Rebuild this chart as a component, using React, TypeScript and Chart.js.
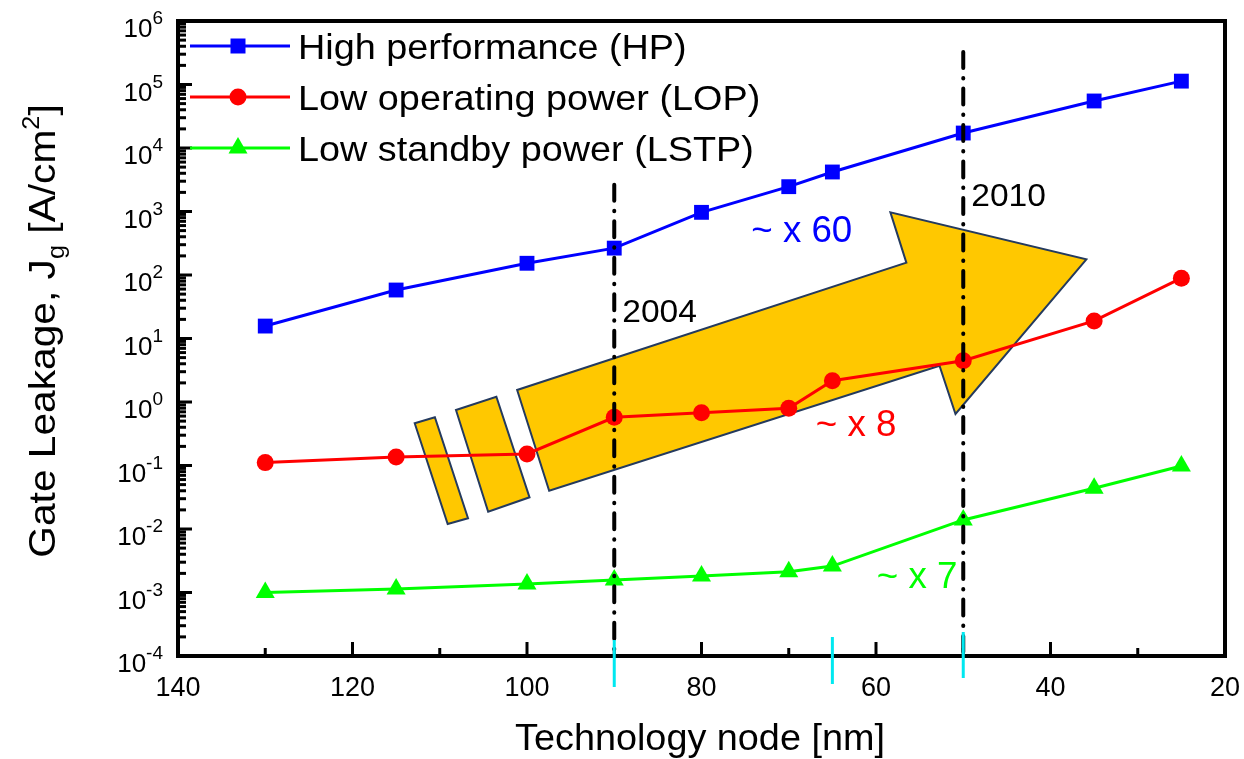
import React, { useEffect, useRef } from "react";
import { Chart, registerables } from "chart.js";

Chart.register(...registerables);

// ---------- data ----------
const nodes = [130, 115, 100, 90, 80, 70, 65, 50, 35, 25];
const hpValues = [15.7, 58, 153, 265, 970, 2460, 4190, 17200, 55000, 113000];
const lopValues = [0.111, 0.136, 0.152, 0.575, 0.68, 0.795, 2.16, 4.47, 18.9, 89];
const lstpValues = [0.00100, 0.00114, 0.00136, 0.00157, 0.00182, 0.00213, 0.00261, 0.0139, 0.0437, 0.098];
const seriesLabels = ["High performance (HP)", "Low operating power (LOP)", "Low standby power (LSTP)"];
const seriesColors = ["#0000FF", "#FF0000", "#00FF00"];
const seriesMarkers = ["rect", "circle", "triangle"];

const xMajorTicks = [140, 120, 100, 80, 60, 40, 20];
const xMinorTicks = [130, 110, 90, 70, 50, 30];
const yDecadeExponents = [-4, -3, -2, -1, 0, 1, 2, 3, 4, 5, 6];

const yearNodes = [90, 50];
const yearLabels = ["2004", "2010"];
const yearLineTopLog = [3.42, 5.51];
const yearLabelLog = [1.26, 3.09];
const cyanNodes = [90, 65, 50];

const ratioLabels = ["~ x 60", "~ x 8", "~ x 7"];
const ratioNodes = [74.3, 66.9, 59.9];
const ratioLog = [2.52, -0.535, -2.93];

// arrow outline in [node, log10(Jg)]
const arrowBody = [
  [97.46, -1.397], [101.13, 0.189], [56.52, 2.194], [58.35, 2.987],
  [35.89, 2.247], [50.89, -0.189], [52.72, 0.572],
];
const arrowStripe2 = [[108.14, -0.126], [103.51, 0.083], [99.71, -1.501], [104.45, -1.728]];
const arrowStripe1 = [[112.87, -0.335], [110.56, -0.241], [106.76, -1.831], [109.09, -1.921]];

const FONT = "'Liberation Sans', Arial, Helvetica, sans-serif";

function drawText(ctx: CanvasRenderingContext2D, s: string, x: number, y: number, size: number, color: string, align: CanvasTextAlign, sx = 1) {
  ctx.save();
  ctx.translate(x, y);
  ctx.scale(sx, 1);
  ctx.font = `${size}px ${FONT}`;
  ctx.fillStyle = color;
  ctx.textAlign = align;
  ctx.textBaseline = "alphabetic";
  ctx.fillText(s, 0, 0);
  ctx.restore();
}

function textW(ctx: CanvasRenderingContext2D, s: string, size: number, sx = 1) {
  ctx.save();
  ctx.font = `${size}px ${FONT}`;
  const w = ctx.measureText(s).width * sx;
  ctx.restore();
  return w;
}

const decorPlugin = {
  id: "decor",
  beforeDatasetsDraw(chart: any) {
    const { ctx } = chart;
    const xs = chart.scales.x;
    const ys = chart.scales.y;
    const poly = (pts: number[][]) => {
      ctx.beginPath();
      pts.forEach((p, i) => {
        const px = xs.getPixelForValue(p[0]);
        const py = ys.getPixelForValue(Math.pow(10, p[1]));
        if (i === 0) ctx.moveTo(px, py);
        else ctx.lineTo(px, py);
      });
      ctx.closePath();
      ctx.fillStyle = "#FFC800";
      ctx.fill();
      ctx.lineWidth = 2;
      ctx.strokeStyle = "#243A5E";
      ctx.lineJoin = "miter";
      ctx.stroke();
    };
    ctx.save();
    poly(arrowBody);
    poly(arrowStripe2);
    poly(arrowStripe1);
    ctx.restore();
  },
  afterDatasetsDraw(chart: any) {
    const { ctx, chartArea } = chart;
    const xs = chart.scales.x;
    const ys = chart.scales.y;
    const { left, right, top, bottom } = chartArea;
    ctx.save();

    // year dash-dot lines
    ctx.strokeStyle = "#000";
    ctx.lineWidth = 4;
    ctx.lineCap = "round";
    ctx.setLineDash([16, 10, 0.5, 10]);
    yearNodes.forEach((n, i) => {
      const px = xs.getPixelForValue(n);
      ctx.beginPath();
      ctx.moveTo(px, ys.getPixelForValue(Math.pow(10, yearLineTopLog[i])));
      ctx.lineTo(px, bottom);
      ctx.stroke();
    });
    ctx.setLineDash([]);
    ctx.lineCap = "butt";

    // frame
    ctx.lineWidth = 4;
    ctx.strokeStyle = "#000";
    ctx.strokeRect(left, top, right - left, bottom - top);

    // x ticks
    ctx.lineWidth = 3;
    xMajorTicks.forEach((v) => {
      const px = xs.getPixelForValue(v);
      ctx.beginPath();
      ctx.moveTo(px, bottom);
      ctx.lineTo(px, bottom - 14);
      ctx.stroke();
      drawText(ctx, String(v), px, bottom + 40, 27, "#000", "center", 1.0);
    });
    xMinorTicks.forEach((v) => {
      const px = xs.getPixelForValue(v);
      ctx.beginPath();
      ctx.moveTo(px, bottom);
      ctx.lineTo(px, bottom - 8);
      ctx.stroke();
    });

    // y ticks
    yDecadeExponents.forEach((e) => {
      const py = ys.getPixelForValue(Math.pow(10, e));
      ctx.beginPath();
      ctx.moveTo(left, py);
      ctx.lineTo(left + 14, py);
      ctx.stroke();
      if (e < 6) {
        for (let m = 2; m <= 9; m++) {
          const pm = ys.getPixelForValue(m * Math.pow(10, e));
          ctx.beginPath();
          ctx.moveTo(left, pm);
          ctx.lineTo(left + 8, pm);
          ctx.stroke();
        }
      }
      const sup = String(e);
      const supW = textW(ctx, sup, 19, 1.0);
      const rx = left - 15;
      drawText(ctx, sup, rx, py + 3, 19, "#000", "right", 1.0);
      drawText(ctx, "10", rx - supW, py + 16, 26, "#000", "right", 1.0);
    });

    // cyan markers
    ctx.strokeStyle = "#00E8F0";
    ctx.lineWidth = 3;
    const cyanSpan = [[-16, 31], [-19, 28], [-24, 22]];
    cyanNodes.forEach((n, i) => {
      const px = xs.getPixelForValue(n);
      ctx.beginPath();
      ctx.moveTo(px, bottom + cyanSpan[i][0]);
      ctx.lineTo(px, bottom + cyanSpan[i][1]);
      ctx.stroke();
    });

    // year labels
    yearNodes.forEach((n, i) => {
      drawText(ctx, yearLabels[i], xs.getPixelForValue(n) + 8, ys.getPixelForValue(Math.pow(10, yearLabelLog[i])), 32, "#000", "left", 1.05);
    });
    // ratio labels
    ratioLabels.forEach((s, i) => {
      drawText(ctx, s, xs.getPixelForValue(ratioNodes[i]), ys.getPixelForValue(Math.pow(10, ratioLog[i])), 36, seriesColors[i], "left", 1.02);
    });

    // legend
    const rows = [46, 97, 148];
    seriesLabels.forEach((lab, i) => {
      const y = rows[i];
      ctx.strokeStyle = seriesColors[i];
      ctx.lineWidth = 3;
      ctx.beginPath();
      ctx.moveTo(190, y);
      ctx.lineTo(290, y);
      ctx.stroke();
      ctx.fillStyle = seriesColors[i];
      ctx.beginPath();
      if (seriesMarkers[i] === "rect") {
        ctx.rect(238 - 7.5, y - 7.5, 15, 15);
      } else if (seriesMarkers[i] === "circle") {
        ctx.arc(238, y, 8.5, 0, Math.PI * 2);
      } else {
        ctx.moveTo(238, y - 11);
        ctx.lineTo(238 + 9.5, y + 5.5);
        ctx.lineTo(238 - 9.5, y + 5.5);
        ctx.closePath();
      }
      ctx.fill();
      drawText(ctx, lab, 298, y + 13, 35, "#000", "left", 1.08);
    });

    // axis titles
    drawText(ctx, "Technology node [nm]", 700, bottom + 94, 36, "#000", "center", 1.05);

    // y title rotated, rich text
    const segs: [string, number, number][] = [
      ["Gate Leakage, J", 37, 0],
      ["g", 23, 9],
      [" [A/cm", 37, 0],
      ["2", 23, -16],
      ["]", 37, 0],
    ];
    const ysx = 1.1;
    let total = 0;
    segs.forEach((s) => (total += textW(ctx, s[0], s[1], ysx)));
    ctx.save();
    ctx.translate(55, 331);
    ctx.rotate(-Math.PI / 2);
    let cx = -total / 2;
    segs.forEach((s) => {
      drawText(ctx, s[0], cx, s[2], s[1], "#000", "left", ysx);
      cx += textW(ctx, s[0], s[1], ysx);
    });
    ctx.restore();

    ctx.restore();
  },
};

export default function App() {
  const ref = useRef<HTMLCanvasElement | null>(null);
  useEffect(() => {
    if (!ref.current) return;
    const mk = (vals: number[]) => nodes.map((n, i) => ({ x: n, y: vals[i] }));
    const chart = new Chart(ref.current, {
      type: "line",
      data: {
        datasets: [
          {
            label: seriesLabels[0],
            data: mk(hpValues),
            borderColor: seriesColors[0],
            backgroundColor: seriesColors[0],
            pointStyle: "rect",
            pointRadius: 10.5,
            pointBorderWidth: 0,
            borderWidth: 3,
          },
          {
            label: seriesLabels[1],
            data: mk(lopValues),
            borderColor: seriesColors[1],
            backgroundColor: seriesColors[1],
            pointStyle: "circle",
            pointRadius: 8.5,
            pointBorderWidth: 0,
            borderWidth: 3,
          },
          {
            label: seriesLabels[2],
            data: mk(lstpValues),
            borderColor: seriesColors[2],
            backgroundColor: seriesColors[2],
            pointStyle: "triangle",
            pointRadius: 11,
            pointBorderWidth: 0,
            borderWidth: 3,
          },
        ],
      },
      options: {
        animation: false,
        responsive: false,
        maintainAspectRatio: false,
        devicePixelRatio: 1,
        layout: { padding: { left: 178, right: 19, top: 21, bottom: 103 } },
        plugins: { legend: { display: false }, tooltip: { enabled: false } },
        elements: { line: { tension: 0 } },
        scales: {
          x: { type: "linear", min: 20, max: 140, reverse: true, display: false },
          y: { type: "logarithmic", min: 1e-4, max: 1e6, display: false },
        },
      },
      plugins: [decorPlugin],
    });
    return () => chart.destroy();
  }, []);
  return (
    <div style={{ position: "absolute", left: 0, top: 0, width: 1244, height: 759, background: "#fff" }}>
      <canvas ref={ref} width={1244} height={759} style={{ width: 1244, height: 759, display: "block" }} />
    </div>
  );
}
